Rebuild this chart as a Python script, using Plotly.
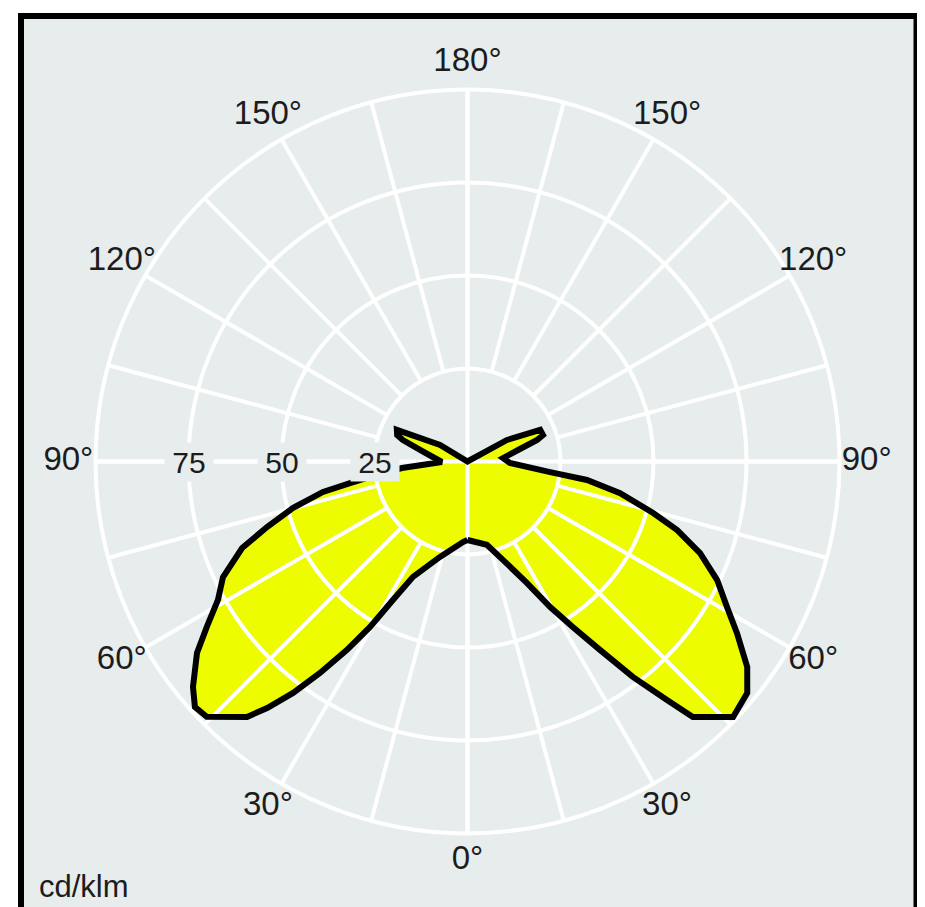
import plotly.graph_objects as go

# ---- data (gamma in degrees from nadir, intensity in cd/klm) ----
right_gamma = [0, 13.1, 19.8, 26.1, 29.6, 32.5, 35.1, 37.5, 39.9, 41.4, 46.1, 50.4, 53.7, 57.5,
               60.7, 64.6, 68.5, 71.9, 74.5, 78.3, 81.2, 82.7, 88.0, 95.6, 103.4, 107.2, 109.3,
               113.5, 118.6, 180]
right_cd = [21.1, 23.0, 28.1, 36.4, 45.0, 52.8, 61.9, 73.0, 83.6, 91.6, 99.1, 97.6, 93.3, 85.9,
            80.0, 74.3, 67.2, 59.3, 51.8, 41.9, 32.5, 22.4, 11.4, 9.6, 14.5, 19.6, 21.5,
            21.3, 12.1, 0]

left_gamma = [0, 3.2, 16.1, 25.3, 28.3, 30.5, 32.6, 34.9, 37.0, 39.1, 40.8, 45.6, 48.0, 50.6,
              54.7, 57.6, 61.0, 64.7, 69.0, 71.9, 75.1, 78.1, 79.6, 81.6, 84.3, 88.9, 97.4,
              103.0, 108.4, 110.6, 114.1, 121.0, 180]
left_cd = [21.1, 21.7, 26.7, 34.3, 42.3, 51.6, 60.1, 69.3, 77.9, 85.4, 90.7, 98.1, 98.6, 95.5,
           89.1, 83.0, 76.7, 72.7, 64.9, 56.7, 48.5, 39.7, 32.1, 24.9, 17.7, 6.9, 9.4,
           12.6, 18.3, 20.2, 20.8, 8.6, 0]

ring_values = [25, 50, 75]
ring_labels = ["25", "50", "75"]

angle_label_theta = list(range(0, 360, 30))
angle_labels = ["0°", "30°", "60°", "90°", "120°", "150°",
                "180°", "150°", "120°", "90°", "60°", "30°"]
unit_label = "cd/klm"

# ---- style ----
BG = "#e7ecec"
YELLOW = "#eefc00"
FONT = "Liberation Sans, Arial, sans-serif"
TXT = "#1c1c1c"
LABEL_R = 107.3          # radial position of the angle labels (outside the 100 ring)

# closed curve: right half theta = gamma, left half theta = 360 - gamma
theta_all = list(right_gamma) + [360 - g for g in reversed(left_gamma)]
r_all = list(right_cd) + list(reversed(left_cd))

ANG = dict(rotation=270, direction="counterclockwise")

W, H = 917, 899   # page body has an 8px margin
cx, cy, R = 459.5, 453.5, 372          # centre and radius (px) of the 0..100 scale
R4 = R * 1.1                            # outer polar uses range 0..110
dom = dict(x=[(cx - R) / W, (cx + R) / W], y=[(H - cy - R) / H, (H - cy + R) / H])
dom4 = dict(x=[(cx - R4) / W, (cx + R4) / W], y=[(H - cy - R4) / H, (H - cy + R4) / H])

fig = go.Figure()
# polar: yellow fill
fig.add_trace(go.Scatterpolar(
    r=r_all, theta=theta_all, mode="lines", fill="toself", fillcolor=YELLOW,
    line=dict(color=YELLOW, width=0), subplot="polar", hoverinfo="skip"))
# polar2 / polar3 carry only grids (rings / spokes) drawn over the fill
fig.add_trace(go.Scatterpolar(r=ring_values, theta=[270] * 3, mode="none",
                              subplot="polar2", hoverinfo="skip"))
fig.add_trace(go.Scatterpolar(r=ring_values, theta=[270] * 3, mode="none",
                              subplot="polar3", hoverinfo="skip"))
# polar4: outline and angle labels
fig.add_trace(go.Scatterpolar(
    r=r_all, theta=theta_all, mode="lines",
    line=dict(color="black", width=6), subplot="polar4", hoverinfo="skip"))
fig.add_trace(go.Scatterpolar(
    r=[LABEL_R] * len(angle_label_theta), theta=angle_label_theta, mode="text",
    text=angle_labels, textposition="middle center",
    textfont=dict(family=FONT, size=33, color=TXT),
    subplot="polar4", cliponaxis=False, hoverinfo="skip"))

# ring value labels sit on the 270deg axis, with a background box
annotations = [dict(text=lab, xref="paper", yref="paper",
                    x=(cx - R * v / 100) / W, y=(H - cy) / H,
                    xanchor="center", yanchor="middle", showarrow=False,
                    width=48, height=38, bgcolor=BG, borderpad=0,
                    font=dict(family=FONT, size=30, color=TXT))
               for v, lab in zip(ring_values, ring_labels)]
annotations.append(dict(text=unit_label, xref="paper", yref="paper",
                        x=29 / W, y=(H - 878) / H, xanchor="left", yanchor="middle",
                        showarrow=False, font=dict(family=FONT, size=31, color=TXT)))

fig.update_layout(
    width=W, height=H, margin=dict(l=0, r=0, t=0, b=0),
    paper_bgcolor="white", showlegend=False,
    font=dict(family=FONT, color=TXT),
    polar=dict(domain=dom, bgcolor=BG,
               radialaxis=dict(range=[0, 100], visible=False),
               angularaxis=dict(**ANG, visible=False)),
    polar2=dict(
        domain=dom, bgcolor="rgba(0,0,0,0)",
        radialaxis=dict(range=[0, 100], tickvals=[25, 50, 75, 100], showticklabels=False,
                        ticks="", showline=False, gridcolor="white", gridwidth=4),
        angularaxis=dict(**ANG, tickvals=[0, 90, 180, 270], showticklabels=False, ticks="",
                         showline=True, linecolor="white", linewidth=4,
                         gridcolor="white", gridwidth=4)),
    polar3=dict(
        domain=dom, bgcolor="rgba(0,0,0,0)", hole=0.25,
        radialaxis=dict(range=[25, 100], showgrid=False, showticklabels=False,
                        ticks="", showline=False),
        angularaxis=dict(**ANG, tickvals=list(range(0, 360, 15)), showticklabels=False,
                         ticks="", showline=False, gridcolor="white", gridwidth=3.5)),
    polar4=dict(domain=dom4, bgcolor="rgba(0,0,0,0)",
                radialaxis=dict(range=[0, 110], visible=False),
                angularaxis=dict(**ANG, visible=False)),
    shapes=[dict(type="rect", xref="paper", yref="paper",
                 x0=13 / W, x1=908.5 / W, y0=-0.2, y1=(H - 8) / H,
                 line=dict(color="black", width=6), fillcolor=BG, layer="below")],
    annotations=annotations,
)

fig.write_html("out.html")
